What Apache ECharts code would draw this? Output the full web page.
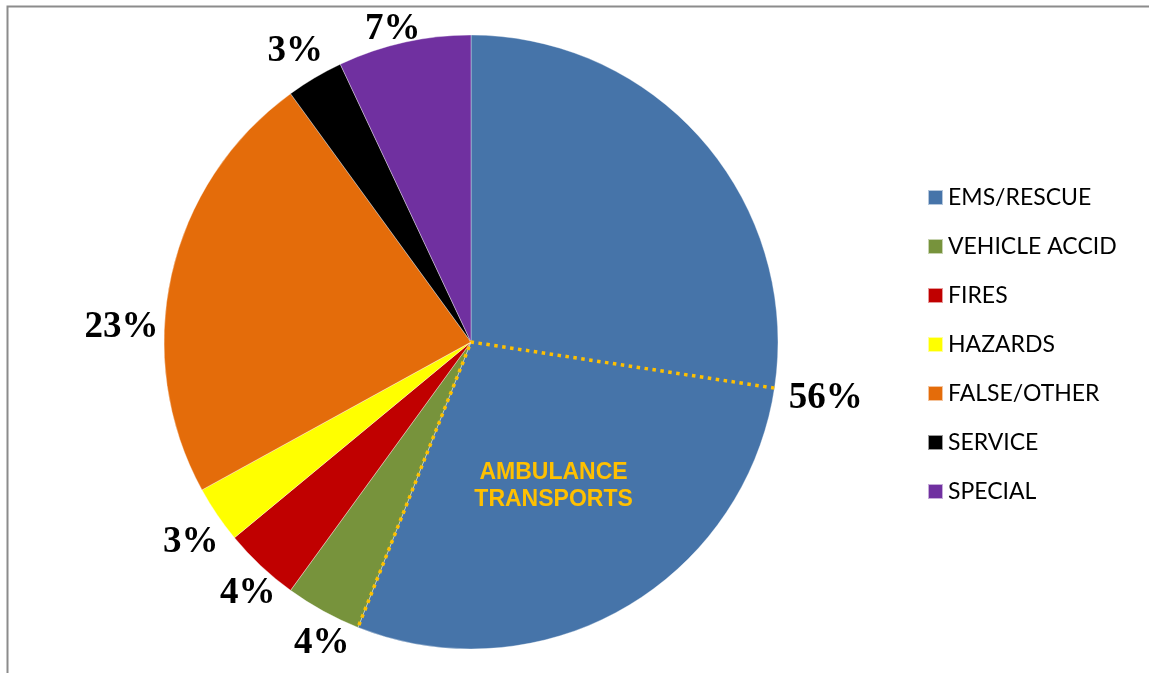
<!DOCTYPE html>
<html>
<head>
<meta charset="utf-8">
<script src="https://cdn.jsdelivr.net/npm/echarts@6/dist/echarts.min.js"></script>
<style>
  html, body { margin: 0; padding: 0; background: #ffffff; }
  #chart { width: 1149px; height: 673px; }
</style>
</head>
<body>
<div id="chart"></div>
<script>
// Incident types, share of all calls (%)
const categories = ['EMS/RESCUE', 'VEHICLE ACCID', 'FIRES', 'HAZARDS', 'FALSE/OTHER', 'SERVICE', 'SPECIAL'];
const shares = [56, 4, 4, 3, 23, 3, 7];
const sliceColors = ['#4674A9', '#77933C', '#C00000', '#FFFF00', '#E46C0A', '#000000', '#7030A0'];

// Part of the EMS/RESCUE share that ended in an ambulance transport (%)
const ambulanceShare = 28.6;
const ambulanceText = ['AMBULANCE', 'TRANSPORTS'];

const CENTER = [471, 342];
const RADIUS = 307;
const LABEL_GAP = 5;
// hand-placed label offsets (px) on top of the radial placement
const labelNudge = {
  0: [10, -9],
  1: [13, 6],
  2: [10, 3],
  3: [3, 8],
  4: [-7, 62],
  5: [-4, 0],
  6: [-6, 11]
};

const total = shares.reduce((a, b) => a + b, 0);
const cumulative = shares.map((_, i) => shares.slice(0, i).reduce((a, b) => a + b, 0));
const emsEnd = shares[0];
const transportStart = emsEnd - ambulanceShare;

const chart = echarts.init(document.getElementById('chart'), null, { renderer: 'canvas' });

chart.setOption({
  backgroundColor: '#ffffff',
  animation: false,
  graphic: [{
    type: 'rect',
    silent: true,
    shape: { x: 7.5, y: 6.5, width: 1400, height: 900 },
    style: { fill: 'none', stroke: '#8c8c8c', lineWidth: 2 }
  }],
  legend: {
    orient: 'vertical',
    left: 927,
    top: 186,
    padding: 0,
    itemWidth: 15,
    itemHeight: 15,
    itemGap: 26,
    icon: 'rect',
    selectedMode: false,
    data: categories,
    textStyle: { color: '#000000', fontFamily: 'Lato', fontSize: 23, lineHeight: 22 }
  },
  polar: { center: CENTER, radius: RADIUS },
  angleAxis: { type: 'value', min: 0, max: total, startAngle: 90, clockwise: true, show: false },
  radiusAxis: { type: 'value', min: 0, max: 1, show: false },
  series: [
    {
      type: 'pie',
      center: CENTER,
      radius: RADIUS,
      startAngle: 90,
      clockwise: true,
      avoidLabelOverlap: false,
      silent: true,
      itemStyle: { borderColor: 'rgba(255,255,255,0.6)', borderWidth: 0.6 },
      data: categories.map((name, i) => ({
        name: name,
        value: shares[i],
        itemStyle: { color: sliceColors[i] }
      })),
      label: {
        show: true,
        position: 'outside',
        formatter: p => Math.round(p.percent) + '%',
        fontFamily: 'Liberation Serif',
        fontWeight: 'bold',
        fontSize: 37,
        color: '#000000'
      },
      labelLine: { show: false },
      labelLayout: function (p) {
        const i = p.dataIndex;
        const mid = (cumulative[i] + shares[i] / 2) / total * Math.PI * 2;
        const dx = Math.sin(mid);
        const dy = -Math.cos(mid);
        const w = p.labelRect.width;
        const h = p.labelRect.height * 0.72;
        const reach = RADIUS + LABEL_GAP + Math.abs(dx) * w / 2 + Math.abs(dy) * h / 2;
        const n = labelNudge[i] || [0, 0];
        return {
          x: CENTER[0] + dx * reach + n[0],
          y: CENTER[1] + dy * reach + n[1],
          align: 'center',
          verticalAlign: 'middle'
        };
      }
    },
    {
      // caption for the transport portion of EMS/RESCUE
      type: 'pie',
      center: CENTER,
      radius: RADIUS * 1.06,
      startAngle: 90,
      clockwise: true,
      silent: true,
      z: 4,
      itemStyle: { color: 'rgba(0,0,0,0)', borderWidth: 0 },
      labelLine: { show: false },
      data: [
        { name: 'ems-other', value: transportStart, label: { show: false } },
        {
          name: 'transports',
          value: ambulanceShare,
          label: {
            show: true,
            position: 'inside',
            formatter: ambulanceText.join('\n'),
            fontFamily: 'Liberation Sans',
            fontWeight: 'bold',
            fontSize: 23,
            lineHeight: 27,
            color: '#FFC000'
          }
        },
        { name: 'rest', value: total - emsEnd, label: { show: false } }
      ]
    },
    {
      // dotted radii bounding the transport portion
      type: 'line',
      coordinateSystem: 'polar',
      silent: true,
      z: 6,
      symbol: 'none',
      lineStyle: { color: '#FFC000', width: 3.5, type: [3.5, 4.5] },
      data: [[1, transportStart], [0, 0], [1, emsEnd]]
    }
  ]
});
</script>
</body>
</html>
